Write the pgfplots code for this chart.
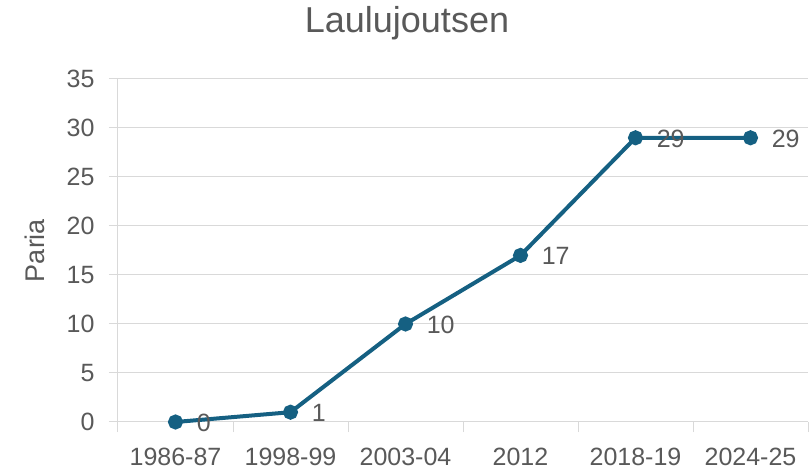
\documentclass[border=0pt]{standalone}
\usepackage{fontspec}
\setmainfont{Liberation Sans}
\usepackage{pgfplots}
\pgfplotsset{compat=1.18}
\definecolor{linec}{HTML}{156082}
\definecolor{gridc}{HTML}{D9D9D9}
\definecolor{textc}{HTML}{595959}
\begin{document}
\begin{tikzpicture}
\useasboundingbox (-118bp,-50bp) rectangle (694bp,422bp);
\begin{axis}[
  at={(0,0)}, anchor=south west,
  scale only axis, width=690bp, height=343bp,
  clip=false,
  xmin=-0.5, xmax=5.5, ymin=0, ymax=35,
  xtick={0,1,2,3,4,5},
  xticklabels={1986-87,1998-99,2003-04,2012,2018-19,2024-25},
  minor xtick={-0.5,0.5,1.5,2.5,3.5,4.5,5.5},
  ytick={0,5,10,15,20,25,30,35},
  major x tick style={draw=none},
  minor x tick style={draw=gridc, line width=1bp},
  y tick style={draw=gridc, line width=1bp},
  tick align=outside,
  minor tick length=10bp,
  major tick length=9bp,
  axis x line*=bottom, axis y line*=left,
  axis line style={draw=gridc, line width=1bp},
  ymajorgrids, grid style={draw=gridc, line width=1bp},
  /pgf/number format/assume math mode=true,
  tick label style={font=\fontsize{25bp}{29bp}\selectfont, text=textc},
  xticklabel style={anchor=base, yshift=-34bp},
  yticklabel style={anchor=east, xshift=-11bp},
  title={Laulujoutsen},
  title style={font=\fontsize{36bp}{40bp}\selectfont, text=textc, at={(0.5,1)}, anchor=base, yshift=41bp, xshift=-56bp},
  ylabel={Paria},
  ylabel style={font=\fontsize{27bp}{30bp}\selectfont, text=textc, at={(axis description cs:-0.1203,0.5)}, anchor=center},
  nodes near coords,
  nodes near coords style={font=\fontsize{25bp}{29bp}\selectfont, text=textc, anchor=west, xshift=16bp, yshift=-1bp},
]
\addplot[color=linec, line width=4bp, mark=*, mark size=5.5bp, mark options={fill=linec, draw=none}]
  coordinates {(0,0) (1,1) (2,10) (3,17) (4,29) (5,29)};
\end{axis}
\end{tikzpicture}
\end{document}
